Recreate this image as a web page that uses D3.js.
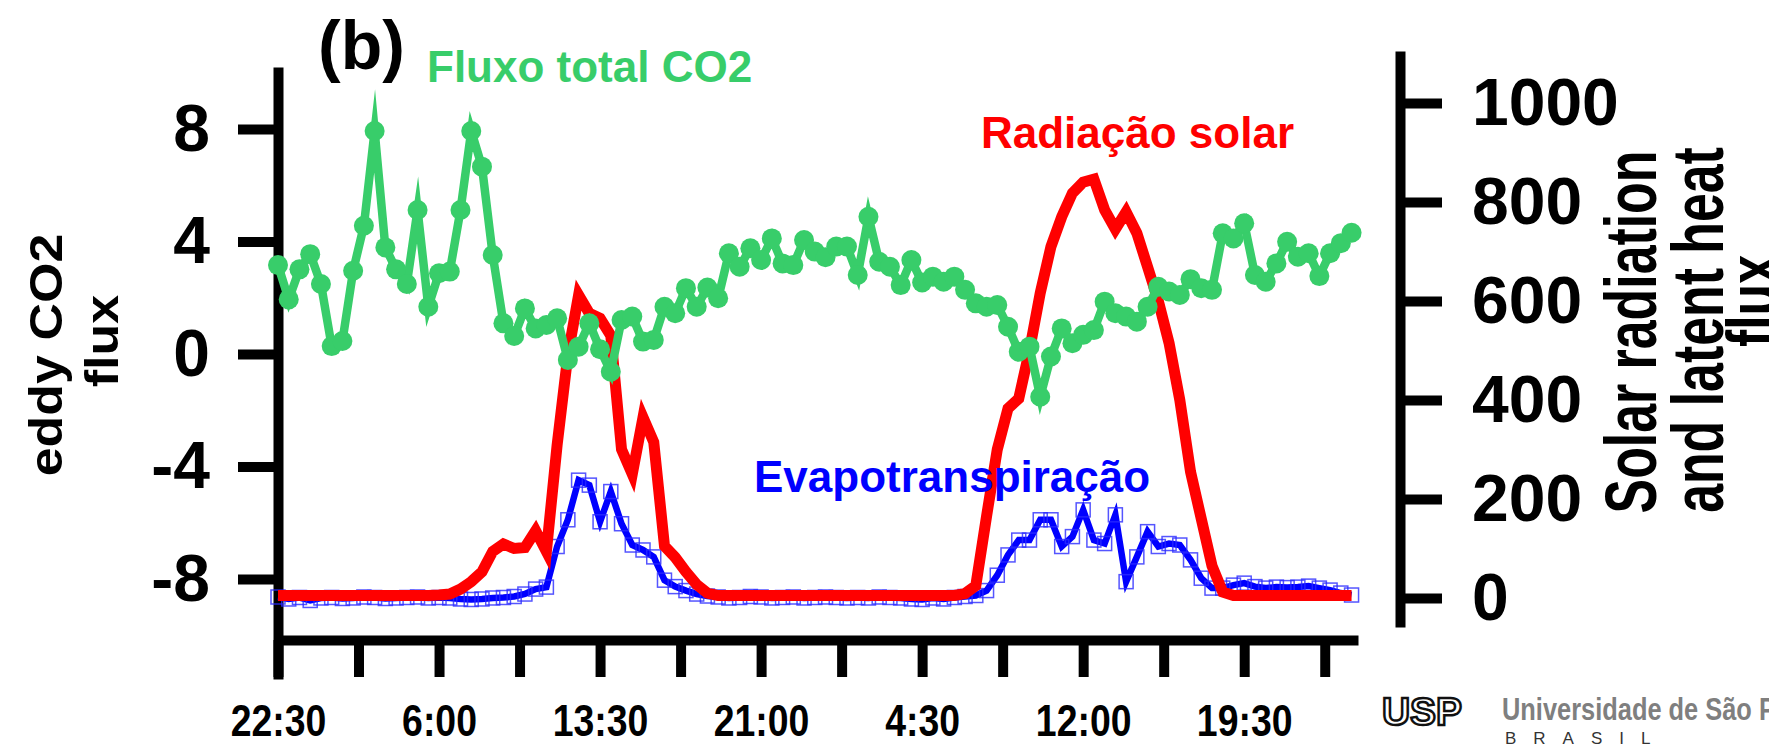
<!DOCTYPE html>
<html>
<head>
<meta charset="utf-8">
<title>Fluxo de CO2, radiação solar e evapotranspiração</title>
<script src="https://cdn.jsdelivr.net/npm/d3@7"></script>
<style>
  html, body { margin: 0; padding: 0; background: #fff; }
  svg { display: block; font-family: "Liberation Sans", Arial, sans-serif; }
</style>
</head>
<body>
<svg id="chart" width="1769" height="749"></svg>
<script>
// half-hourly readings, first one at 22:30
var co2Flux = [3.16, 1.94, 3.01, 3.55, 2.49, 0.28, 0.46, 2.96, 4.56, 7.93,
  3.79, 3.01, 2.49, 5.12, 1.68, 2.87, 2.93, 5.12, 7.93, 6.66,
  3.52, 1.09, 0.64, 1.62, 0.91, 1.03, 1.27, -0.21, 0.26, 1.09,
  0.17, -0.63, 1.21, 1.33, 0.44, 0.50, 1.68, 1.45, 2.34, 1.68,
  2.36, 1.98, 3.58, 3.10, 3.76, 3.34, 4.11, 3.22, 3.16, 4.05,
  3.64, 3.44, 3.82, 3.82, 2.81, 4.88, 3.28, 3.10, 2.45, 3.34,
  2.54, 2.75, 2.57, 2.75, 2.28, 1.80, 1.68, 1.74, 0.97, 0.08,
  0.26, -1.52, -0.09, 0.91, 0.38, 0.68, 0.85, 1.86, 1.45, 1.33,
  1.15, 1.68, 2.39, 2.22, 2.10, 2.66, 2.34, 2.28, 4.29, 4.11,
  4.65, 2.81, 2.57, 3.22, 3.99, 3.46, 3.58, 2.77, 3.58, 3.94, 4.31];
var solarRad = [5, 5, 5, 5, 5, 5, 5, 5, 5, 5,
  5, 5, 5, 5, 5, 6, 8, 18, 33, 53,
  94, 109, 100, 102, 136, 94, 309, 491, 612, 575,
  565, 530, 300, 250, 365, 315, 105, 82, 53, 27,
  10, 5, 5, 5, 5, 5, 5, 5, 5, 5,
  5, 5, 5, 5, 5, 5, 5, 5, 5, 5,
  5, 5, 5, 5, 9, 25, 165, 300, 383, 403,
  500, 616, 710, 770, 818, 840, 846, 784, 745, 780,
  737, 669, 600, 515, 400, 255, 160, 65, 12, 5,
  5, 5, 5, 5, 5, 5, 5, 5, 5, 5, 5];
var latentHeat = [2, -2, 1, -5, 0, 1, -1, 0, 2, 1,
  -1, 0, 1, 2, 0, 1, 0, -2, -3, -2,
  0, 1, 3, 8, 18, 22, 104, 158, 238, 228,
  154, 215, 150, 107, 97, 83, 36, 23, 15, 8,
  4, 2, 0, 1, 3, 2, 0, 1, 2, 0,
  1, 2, 1, 0, 1, 0, 2, 1, 0, -2,
  -3, 0, -2, 1, 3, 5, 15, 46, 87, 117,
  117, 158, 158, 104, 124, 178, 117, 110, 168, 33,
  83, 134, 104, 110, 107, 77, 40, 20, 20, 26,
  30, 23, 20, 22, 21, 22, 24, 20, 16, 10, 6];
var xTickHours = d3.range(0, 49, 3.75);
var xLabels = ["22:30", "6:00", "13:30", "21:00", "4:30", "12:00", "19:30"];
var leftTicks = [-8, -4, 0, 4, 8];
var rightTicks = [0, 200, 400, 600, 800, 1000];

var green = "#38cd6a";
var svg = d3.select("#chart");

// scales
var x = d3.scaleLinear().domain([0, 50.3]).range([278, 1358]);
var yL = d3.scaleLinear().domain([-11.556, 10.204]).range([679, 67]);
var yR = d3.scaleLinear().domain([-58.6, 1105]).range([627, 51]);

function hour(d, i) { return i * 0.5; }

// axes
function styleAxis(g) {
  g.attr("font-family", null).attr("font-size", null);
  g.select(".domain").attr("stroke", "#000").attr("stroke-width", 10);
  g.selectAll(".tick line").attr("stroke", "#000").attr("stroke-width", 10);
  g.selectAll(".tick text")
    .attr("fill", "#000")
    .style("font-weight", "bold");
}

var axL = svg.append("g")
  .attr("transform", "translate(278,0)")
  .call(d3.axisLeft(yL).tickValues(leftTicks).tickSize(40).tickSizeOuter(0)
    .tickPadding(28).tickFormat(function(d) { return String(d); }))
  .call(styleAxis);
axL.selectAll(".tick text").style("font-size", "66px");

var axR = svg.append("g")
  .attr("transform", "translate(1400,0)")
  .call(d3.axisRight(yR).tickValues(rightTicks).tickSize(42).tickSizeOuter(0)
    .tickPadding(30).tickFormat(function(d) { return String(d); }))
  .call(styleAxis);
axR.selectAll(".tick text").style("font-size", "66px");

var axX = svg.append("g")
  .attr("transform", "translate(0,640)")
  .call(d3.axisBottom(x).tickValues(xTickHours).tickSize(37).tickSizeOuter(0)
    .tickFormat(function(d, i) { return i % 2 === 0 ? xLabels[i / 2] : ""; }))
  .call(styleAxis);
axX.selectAll(".tick text")
  .attr("y", 96).attr("dy", 0)
  .attr("transform", "scale(0.85,1)")
  .style("font-size", "44px");

// series
var lineL = d3.line().x(function(d, i) { return x(hour(d, i)); }).y(function(d) { return yL(d); });
var lineR = d3.line().x(function(d, i) { return x(hour(d, i)); }).y(function(d) { return yR(d); });

svg.append("path")
  .datum(latentHeat)
  .attr("d", lineR)
  .attr("fill", "none")
  .attr("stroke", "#0000ff")
  .attr("stroke-width", 6.5)
  .attr("stroke-miterlimit", 15);

svg.append("g").selectAll("rect")
  .data(latentHeat)
  .enter().append("rect")
    .attr("x", function(d, i) { return x(hour(d, i)) - 7; })
    .attr("y", function(d) { return yR(d) - 7; })
    .attr("width", 14)
    .attr("height", 14)
    .attr("fill", "none")
    .attr("stroke", "#2b2bff")
    .attr("stroke-opacity", 0.8)
    .attr("stroke-width", 1.5);

svg.append("path")
  .datum(solarRad)
  .attr("d", lineR)
  .attr("fill", "none")
  .attr("stroke", "#ff0000")
  .attr("stroke-width", 11)
  .attr("stroke-miterlimit", 15);

svg.append("path")
  .datum(co2Flux)
  .attr("d", lineL)
  .attr("fill", "none")
  .attr("stroke", green)
  .attr("stroke-width", 8.5)
  .attr("stroke-miterlimit", 15);

svg.append("g").selectAll("circle")
  .data(co2Flux)
  .enter().append("circle")
    .attr("cx", function(d, i) { return x(hour(d, i)); })
    .attr("cy", function(d) { return yL(d); })
    .attr("r", 10)
    .attr("fill", green);

// series labels
function label(txt, px, py, colour, size) {
  return svg.append("text")
    .attr("x", px).attr("y", py)
    .attr("fill", colour)
    .style("font-size", size + "px")
    .style("font-weight", "bold")
    .text(txt);
}
label("(b)", 318, 69, "#000", 68);
label("Fluxo total CO2", 427, 82, green, 44);
label("Radiação solar", 981, 148, "#ff0000", 44);
label("Evapotranspiração", 754, 492, "#0000ff", 44);

// axis titles
function vtitle(txt, px, py, size, stretch) {
  svg.append("text")
    .attr("transform", "translate(" + px + "," + py + ") rotate(-90) scale(" + stretch + ",1)")
    .attr("text-anchor", "middle")
    .style("font-size", size + "px")
    .style("font-weight", "bold")
    .text(txt);
}
vtitle("eddy CO2", 62, 355, 46, 1.13);
vtitle("flux", 118, 341, 46, 1.13);
vtitle("Solar radiation", 1656, 332, 72, 0.72);
vtitle("and latent heat", 1723, 330, 72, 0.72);
vtitle("flux", 1778, 301, 72, 0.72);

// USP logo footer
svg.append("text")
  .attr("x", 1382).attr("y", 725)
  .attr("textLength", 80).attr("lengthAdjust", "spacingAndGlyphs")
  .attr("fill", "#fff").attr("stroke", "#111").attr("stroke-width", 2.5)
  .style("font-size", "39px").style("font-weight", "bold")
  .text("USP");
svg.append("text")
  .attr("transform", "translate(1502,720) scale(0.82,1)")
  .attr("fill", "#7f7f7f")
  .style("font-size", "31px").style("font-weight", "bold")
  .text("Universidade de São Paulo");
svg.append("text")
  .attr("x", 1505).attr("y", 744)
  .attr("fill", "#333")
  .style("font-size", "17px").style("letter-spacing", "17px")
  .text("BRASIL");
</script>
</body>
</html>
